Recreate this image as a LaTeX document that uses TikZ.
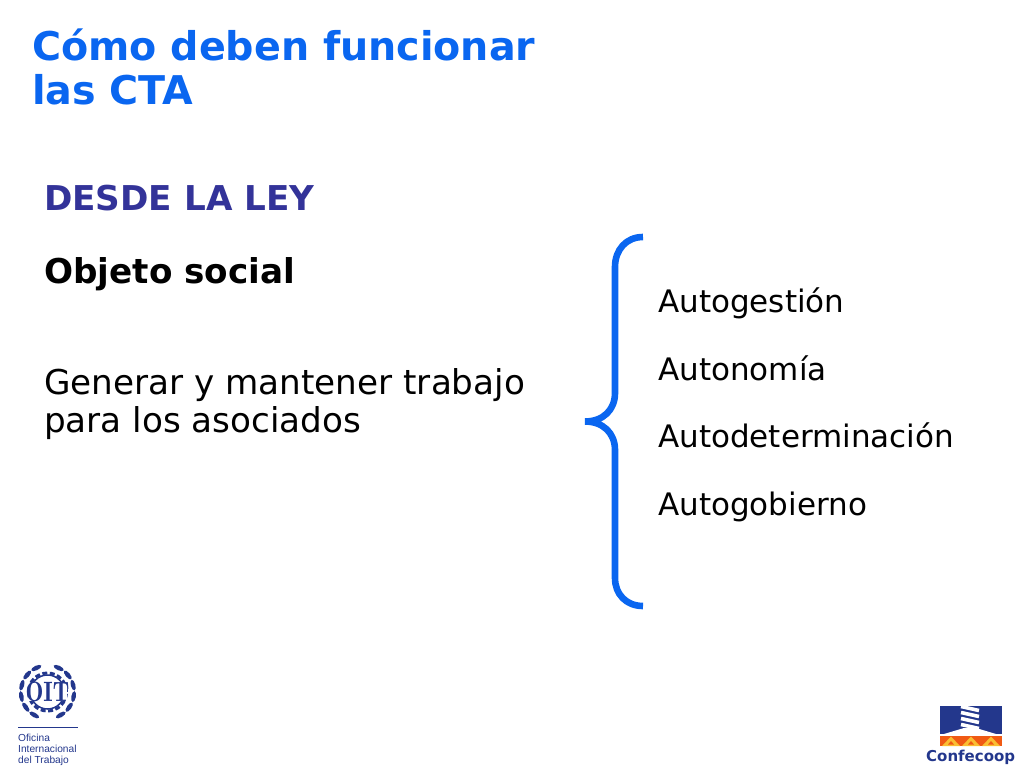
\documentclass[tikz,border=0pt]{standalone}
\usepackage{fontspec}
\setmainfont{DejaVu Sans}
\newfontfamily\logofont{Liberation Sans}
\definecolor{titleblue}{RGB}{10,102,240}
\definecolor{headblue}{RGB}{51,51,153}
\definecolor{logoblue}{RGB}{35,55,140}
\definecolor{logoorange}{RGB}{240,90,20}
\definecolor{logoyellow}{RGB}{250,190,50}
\tikzset{
  txt/.style={anchor=base west,inner sep=0pt,align=left},
  titletxt/.style={txt,text=titleblue,font=\fontsize{39.6}{44}\selectfont\bfseries},
  headtxt/.style={txt,text=headblue,font=\fontsize{34.2}{38}\selectfont\bfseries},
  subtxt/.style={txt,font=\fontsize{34.2}{38}\selectfont\bfseries},
  bodytxt/.style={txt,font=\fontsize{34.2}{38}\selectfont},
  itemtxt/.style={txt,font=\fontsize{31}{34}\selectfont},
  oittxt/.style={txt,text=logoblue,font=\logofont\fontsize{10.2}{12}\selectfont},
  brace/.style={draw=titleblue,line width=6.6pt,line cap=butt},
  leaf/.style={fill=logoblue}
}
\begin{document}
\begin{tikzpicture}[x=1pt,y=-1pt]
  \useasboundingbox (0,0) rectangle (1024,768);
  \draw
    (32,60.5) node[titletxt] (title1){Cómo deben funcionar}
    (32,104) node[titletxt] (title2){las CTA}
    (44,210.5) node[headtxt] (ley){DESDE LA LEY}
    (44,283.5) node[subtxt] (objeto){Objeto social}
    (44,394) node[bodytxt] (generar){Generar y mantener trabajo}
    (44,432) node[bodytxt] (para){para los asociados}
    (658,312) node[itemtxt] (gestion){Autogestión}
    (658,380) node[itemtxt] (autonomia){Autonomía}
    (658,447) node[itemtxt] (determ){Autodeterminación}
    (658,515) node[itemtxt] (gobierno){Autogobierno};
  % llave
  \coordinate (bracetop) at (643,237);
  \coordinate (bracetip) at (585,421.5);
  \coordinate (bracebot) at (643,606);
  \draw[brace] (bracetop) .. controls (626,237) and (615,250) .. (615,267)
    -- (615,393) .. controls (615,410) and (603,421.5) .. (bracetip)
    .. controls (603,421.5) and (615,433) .. (615,450)
    -- (615,578) .. controls (615,594) and (626,606) .. (bracebot);
  % logo OIT
  \foreach \a in {25,50,...,150}{
    \fill[leaf,rotate around={\a:(47.5,692)}] (47.5,665.5) ellipse (5.5pt and 2.3pt);
    \fill[leaf,rotate around={-\a:(47.5,692)}] (47.5,665.5) ellipse (5.5pt and 2.3pt);
  }
  \draw[logoblue,line width=3pt,dash pattern=on 5pt off 2.5pt] (47.5,692) circle (19pt);
  \draw[logoblue,line width=1.5pt] (47.5,692) circle (17pt);
  \fill[white] (28,683) rectangle (67,701);
  \node[inner sep=0pt,text=logoblue,xscale=0.85,font=\fontfamily{lmr}\fontsize{28}{28}\selectfont\bfseries] (oit) at (47.5,692) {OIT};
  \draw[logoblue,line width=0.8pt] (18,727) -- (78,727);
  \draw
    (18,741) node[oittxt] (oficina){Oficina}
    (18,752) node[oittxt] (internacional){Internacional}
    (18,763) node[oittxt] (trabajo){del Trabajo};
  % logo Confecoop
  \fill[logoblue] (940,706) rectangle (1002,734);
  \fill[logoorange] (940,736) rectangle (1002,746);
  \foreach \x in {951,971,991}{
    \fill[logoyellow] (\x-9,746) -- (\x,736.5) -- (\x+9,746) -- cycle;
    \fill[logoorange] (\x-3,744.5) -- (\x,741) -- (\x+3,744.5) -- cycle;
  }
  \foreach \y in {708,714,720,726}{
    \draw[white,line width=3.6pt] (961,\y-1.5) -- (979,\y+2.5);
  }
  \fill[white] (944,734) -- (964,728) -- (976,728) -- (996,734) -- cycle;
  \draw (926,761) node[txt,text=logoblue,font=\fontsize{15}{15}\selectfont\bfseries] (confecoop){Confecoop};
\end{tikzpicture}
\end{document}
